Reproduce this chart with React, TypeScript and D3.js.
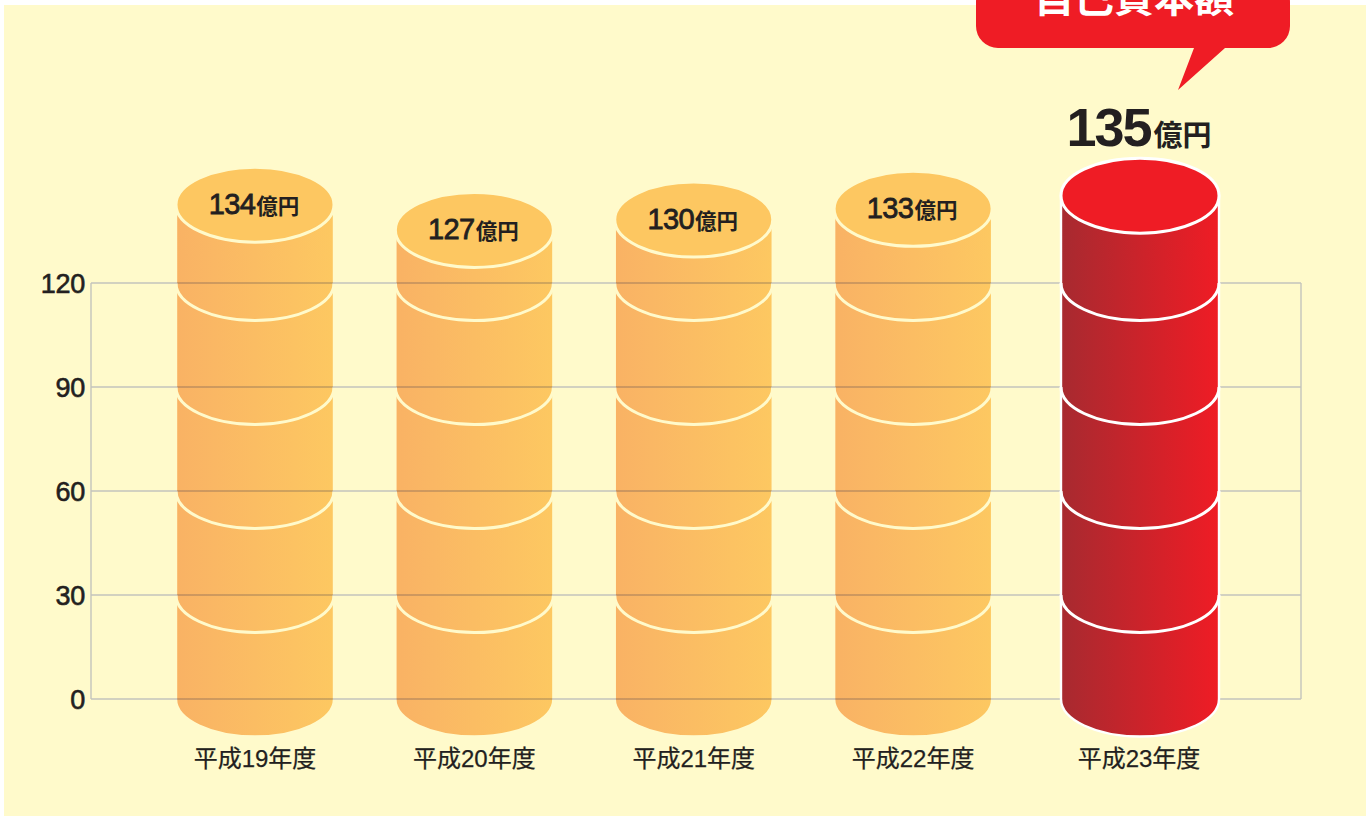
import React from "react";
import * as d3 from "d3";

const categories = ["平成19年度", "平成20年度", "平成21年度", "平成22年度", "平成23年度"];
const values = [134, 127, 130, 133, 135];
// Drawn height of each cylinder's top face, in axis units
const drawnHeights = [142.6, 135.3, 138.3, 141.4, 145.2];
const yTicks = [0, 30, 60, 90, 120];
const ringTicks = [30, 60, 90, 120];
const unit = "億円";
const calloutTitle = "自己資本額";

const W = 1370;
const H = 816;
const y = d3.scaleLinear().domain([0, 120]).range([699, 283]);
const xBase = d3.scalePoint<string>().domain(categories).range([255, 1132.5]);
const HIGHLIGHT = categories.length - 1;
const cx = (i: number) => (xBase(categories[i]) as number) + (i === HIGHLIGHT ? 7.5 : 0);
const RX = 79;
const RY = 37.5;
const SANS = "'Liberation Sans', Arial, sans-serif";
const CJK = "'Noto Sans CJK JP', sans-serif";
const INK = "#231f20";

const lowerArc = (c: number, yy: number) =>
  `M${c - RX},${yy} A${RX},${RY} 0 0 0 ${c + RX},${yy}`;

function Cylinder({ i }: { i: number }) {
  const c = cx(i);
  const top = y(drawnHeights[i]);
  const base = y(0);
  const hi = i === HIGHLIGHT;
  const strokeW = 3;
  const body = `M${c - RX},${top} L${c - RX},${base} A${RX},${RY} 0 0 0 ${c + RX},${base} L${c + RX},${top} Z`;
  return (
    <g style={hi ? undefined : { mixBlendMode: "multiply" }}>
      <path d={body} fill={`url(#${hi ? "redGrad" : "orangeGrad"})`} stroke="#fff" strokeWidth={2.4} />
      {ringTicks.map((t) => (
        <path key={t} d={lowerArc(c, y(t))} fill="none" stroke="#fff" strokeWidth={strokeW} />
      ))}
      <ellipse
        cx={c}
        cy={top}
        rx={RX}
        ry={RY}
        fill={hi ? "#ef1c25" : "#fdcb7a"}
        stroke="#fff"
        strokeWidth={strokeW}
      />
    </g>
  );
}

export default function App() {
  return (
    <svg
      width={W}
      height={H}
      viewBox={`0 0 ${W} ${H}`}
      style={{ position: "absolute", left: 0, top: 0, display: "block", background: "#fff" }}
    >
      <defs>
        <linearGradient id="orangeGrad" x1="0" x2="1" y1="0" y2="0">
          <stop offset="0" stopColor="#f9b67e" />
          <stop offset="1" stopColor="#fdcc7a" />
        </linearGradient>
        <linearGradient id="redGrad" x1="0" x2="1" y1="0" y2="0">
          <stop offset="0" stopColor="#a72a30" />
          <stop offset="1" stopColor="#ef1c25" />
        </linearGradient>
      </defs>

      <g style={{ isolation: "isolate" }}>
        <rect x={4} y={5} width={1362} height={811} fill="#fffacb" />

        {yTicks.map((t) => (
          <line key={t} x1={91} x2={1301} y1={y(t)} y2={y(t)} stroke="#c3c3bd" strokeWidth={1.4} />
        ))}
        <line x1={91} x2={91} y1={y(120)} y2={y(0)} stroke="#c3c3bd" strokeWidth={1.4} />
        <line x1={1301} x2={1301} y1={y(120)} y2={y(0)} stroke="#c3c3bd" strokeWidth={1.4} />

        {categories.map((_, i) => (
          <Cylinder key={i} i={i} />
        ))}
      </g>

      {yTicks.map((t) => (
        <text
          key={t}
          x={85}
          y={y(t) + 10}
          textAnchor="end"
          fontFamily={SANS}
          fontSize={27}
          fill={INK}
          stroke={INK}
          strokeWidth={0.6}
          letterSpacing={-0.3}
        >
          {t}
        </text>
      ))}

      {categories.map((cat, i) => (
        <text
          key={cat}
          x={cx(i) - (i === HIGHLIGHT ? 1 : 0)}
          y={767}
          textAnchor="middle"
          fontFamily={`${SANS.split(",")[0]}, ${CJK}`}
          fontSize={24}
          fill={INK}
          stroke={INK}
          strokeWidth={0.25}
        >
          {cat}
        </text>
      ))}

      {values.map((v, i) =>
        i === HIGHLIGHT ? (
          <text key={i} x={cx(i) - 1} y={146} textAnchor="middle" fill={INK}>
            <tspan fontFamily={SANS} fontWeight={700} fontSize={54} letterSpacing={-2}>
              {v}
            </tspan>
            <tspan dx={3} fontFamily={CJK} fontWeight={700} fontSize={29}>
              {unit}
            </tspan>
          </text>
        ) : (
          <text key={i} x={cx(i) - 1} y={y(drawnHeights[i]) + 9} textAnchor="middle" fill={INK}>
            <tspan
              fontFamily={SANS}
              fontWeight={400}
              fontSize={29}
              stroke={INK}
              strokeWidth={0.8}
              letterSpacing={-0.6}
            >
              {v}
            </tspan>
            <tspan dx={1} fontFamily={CJK} fontWeight={700} fontSize={21.5}>
              {unit}
            </tspan>
          </text>
        )
      )}

      <path
        d="M998,-20 H1268 A22,22 0 0 1 1290,2 V26 A22,22 0 0 1 1268,48 H1225 L1178,90 L1194,48 H998 A22,22 0 0 1 976,26 V2 A22,22 0 0 1 998,-20 Z"
        fill="#ef1c25"
      />
      <text
        x={1134}
        y={11.5}
        textAnchor="middle"
        fontFamily={CJK}
        fontWeight={700}
        fontSize={40}
        fill="#fff"
      >
        {calloutTitle}
      </text>
    </svg>
  );
}
